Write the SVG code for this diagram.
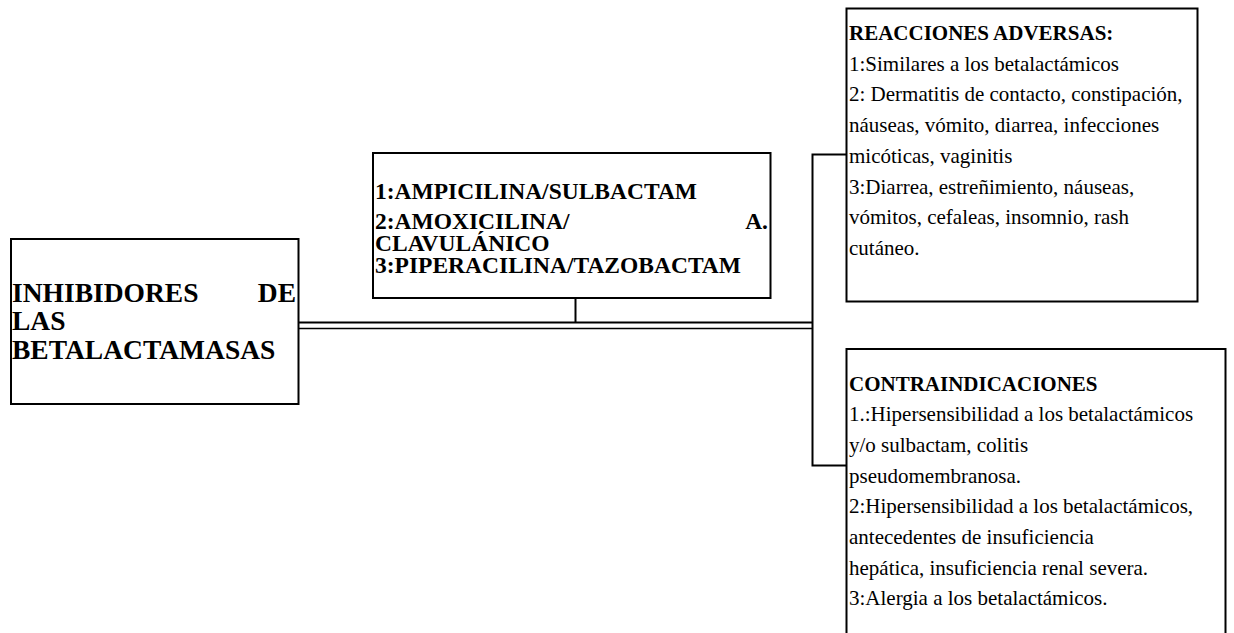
<svg xmlns="http://www.w3.org/2000/svg" width="1234" height="633" viewBox="0 0 1234 633">
<style>
.box{fill:#fff;stroke:#000;stroke-width:2}
.ln{fill:none;stroke:#000;stroke-width:2}
.t{font-family:"Liberation Serif","Times New Roman",serif;fill:#000}
.b{font-weight:bold}
.big{font-size:27.5px}
.mid{font-size:23.5px}
.sm{font-size:21px}
</style>
<rect width="1234" height="633" fill="#fff"/>
<g id="connectors">
<line class="ln" x1="298" y1="322.5" x2="812" y2="322.5"/>
<line class="ln" x1="298" y1="328.5" x2="812" y2="328.5" style="stroke-width:1.6"/>
<line class="ln" x1="575.5" y1="298" x2="575.5" y2="322.5"/>
<polyline class="ln" points="846,154.5 812.5,154.5 812.5,465.5 846,465.5"/>
</g>
<g id="node-inhibidores">
<rect class="box" x="11" y="239" width="287.5" height="165"/>
<text class="t b big" x="12" y="301.5">INHIBIDORES</text>
<text class="t b big" x="296" y="301.5" text-anchor="end">DE</text>
<text class="t b big" x="12" y="330">LAS</text>
<text class="t b big" x="12" y="358.5">BETALACTAMASAS</text>
</g>
<g id="node-farmacos">
<rect class="box" x="373" y="153" width="397.5" height="145"/>
<text class="t b mid" x="375" y="198.5">1:AMPICILINA/SULBACTAM</text>
<text class="t b mid" x="375" y="228.5">2:AMOXICILINA/</text>
<text class="t b mid" x="768" y="228.5" text-anchor="end">A.</text>
<text class="t b mid" x="375" y="250.5">CLAVULÁNICO</text>
<text class="t b mid" x="375" y="272.5">3:PIPERACILINA/TAZOBACTAM</text>
</g>
<g id="node-reacciones">
<rect class="box" x="846.5" y="8.5" width="351" height="293"/>
<text class="t b sm" x="849" y="40">REACCIONES ADVERSAS:</text>
<text class="t sm" x="849" y="70.7">1:Similares a los betalactámicos</text>
<text class="t sm" x="849" y="101.4">2: Dermatitis de contacto, constipación,</text>
<text class="t sm" x="849" y="132.1">náuseas, vómito, diarrea, infecciones</text>
<text class="t sm" x="849" y="162.8">micóticas, vaginitis</text>
<text class="t sm" x="849" y="193.5">3:Diarrea, estreñimiento, náuseas,</text>
<text class="t sm" x="849" y="224.2">vómitos, cefaleas, insomnio, rash</text>
<text class="t sm" x="849" y="254.9">cutáneo.</text>
</g>
<g id="node-contraindicaciones">
<rect class="box" x="846.5" y="349" width="379" height="300"/>
<text class="t b sm" x="849" y="390.5">CONTRAINDICACIONES</text>
<text class="t sm" x="849" y="421.2">1.:Hipersensibilidad a los betalactámicos</text>
<text class="t sm" x="849" y="451.9">y/o sulbactam, colitis</text>
<text class="t sm" x="849" y="482.6">pseudomembranosa.</text>
<text class="t sm" x="849" y="513.3">2:Hipersensibilidad a los betalactámicos,</text>
<text class="t sm" x="849" y="544">antecedentes de insuficiencia</text>
<text class="t sm" x="849" y="574.7">hepática, insuficiencia renal severa.</text>
<text class="t sm" x="849" y="605.4">3:Alergia a los betalactámicos.</text>
</g>
</svg>
